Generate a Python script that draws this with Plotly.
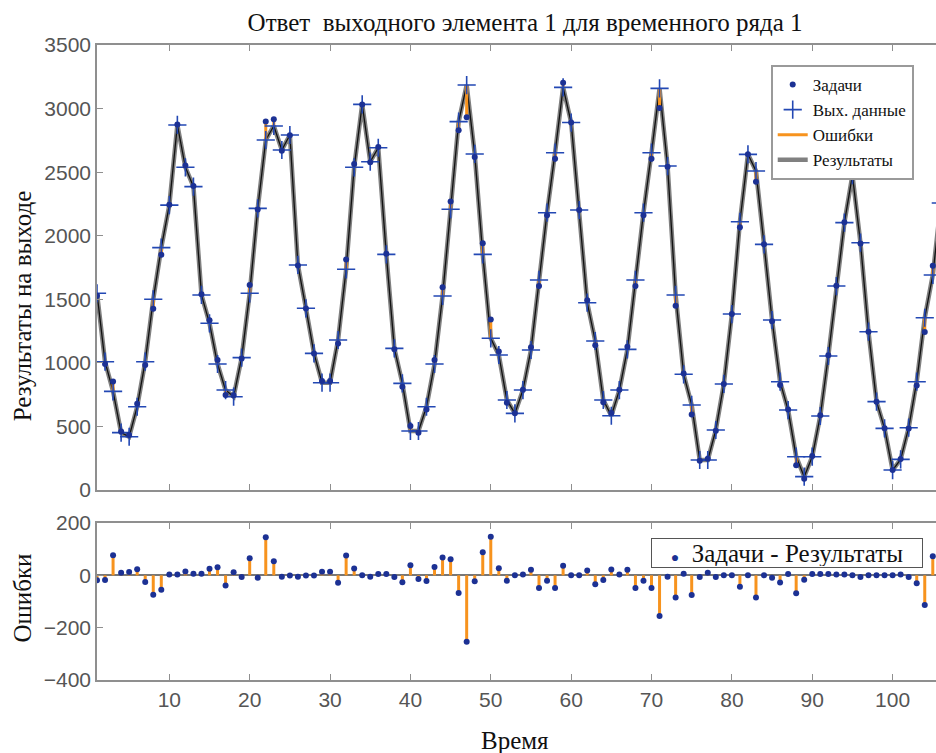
import plotly.graph_objects as go

time = list(range(1, 107))

targets = [1528, 991, 853, 461, 432, 678, 984, 1426, 1851, 2244,
           2874, 2553, 2392, 1540, 1336, 1022, 747, 746, 1035, 1612,
           2206, 2899, 2917, 2669, 2791, 1765, 1428, 1074, 858, 858,
           1152, 1812, 2564, 3033, 2577, 2697, 1858, 1108, 813, 503,
           450, 633, 1023, 1594, 2270, 2830, 2931, 2620, 1941, 1341,
           1089, 687, 603, 789, 1122, 1604, 2160, 2605, 3204, 2890,
           2202, 1492, 1138, 690, 606, 789, 1127, 1604, 2160, 2605,
           3004, 2543, 1449, 916, 594, 230, 246, 466, 834, 1384,
           2066, 2640, 2424, 1932, 1328, 825, 634, 194, 88, 267,
           587, 1059, 1607, 2106, 2477, 1939, 1245, 695, 485, 157,
           244, 484, 822, 1242, 1764, 2257]

outputs = [1547, 1009, 776, 451, 419, 655, 1009, 1500, 1906, 2241,
           2871, 2538, 2386, 1534, 1311, 991, 786, 734, 1041, 1547,
           2215, 2753, 2863, 2674, 2792, 1770, 1429, 1075, 844, 844,
           1180, 1736, 2538, 3033, 2582, 2692, 1853, 1114, 839, 464,
           464, 655, 991, 1526, 2208, 2897, 3185, 2643, 1853, 1193,
           1062, 708, 603, 786, 1101, 1652, 2181, 2653, 3167, 2890,
           2202, 1473, 1172, 708, 584, 786, 1106, 1652, 2181, 2653,
           3159, 2548, 1534, 910, 669, 236, 236, 472, 834, 1384,
           2110, 2640, 2509, 1932, 1337, 852, 629, 262, 105, 262,
           582, 1054, 1604, 2103, 2477, 1945, 1245, 695, 485, 157,
           241, 490, 852, 1355, 1691, 2257]

errors = [-19, -18, 77, 10, 13, 23, -25, -74, -55, 3,
          3, 15, 6, 6, 25, 31, -39, 12, -6, 65,
          -9, 146, 54, -5, -1, -5, -1, -1, 14, 14,
          -28, 76, 26, 0, -5, 5, 5, -6, -26, 39,
          -14, -22, 32, 68, 62, -67, -254, -23, 88, 148,
          27, -21, 0, 3, 21, -48, -21, -48, 37, 0,
          0, 19, -34, -18, 22, 3, 21, -48, -21, -48,
          -155, -5, -85, 6, -75, -6, 10, -6, 0, 0,
          -44, 0, -85, 0, -9, -27, 5, -68, -17, 5,
          5, 5, 3, 3, 0, -6, 0, 0, 0, 0,
          3, -6, -30, -113, 73, 0]

x_ticks = [10, 20, 30, 40, 50, 60, 70, 80, 90, 100]
y_ticks_top = [0, 500, 1000, 1500, 2000, 2500, 3000, 3500]
y_ticks_bot = [-400, -200, 0, 200]

title_text = "Ответ  выходного элемента 1 для временного ряда 1"
ytitle_top = "Результаты на выходе"
ytitle_bot = "Ошибки"
xtitle = "Время"
legend2_label = "Задачи - Результаты"

BLUE_DOT = "#1c3194"
BLUE_PLUS = "#2348b4"
ORANGE = "#f7931e"
GRAY = "#808080"
AXIS = "#8f8f8f"
TICKFONT = dict(family="Liberation Sans, Arial, sans-serif", size=21, color="#555555")
SERIF = "Liberation Serif, Times New Roman, serif"

# error segments (top panel)
ex, ey = [], []
for t, tg, o in zip(time, targets, outputs):
    ex += [t, t, None]
    ey += [o, tg, None]

# stems (bottom panel)
sx, sy = [], []
for t, e in zip(time, errors):
    sx += [t, t, None]
    sy += [0, e, None]

fig = go.Figure()

fig.add_trace(go.Scatter(x=time, y=outputs, mode="lines", name="Результаты",
                         line=dict(color=GRAY, width=4.5), legendrank=4,
                         xaxis="x", yaxis="y"))
fig.add_trace(go.Scatter(x=time, y=outputs, mode="lines", showlegend=False,
                         line=dict(color="#111111", width=1.3),
                         xaxis="x", yaxis="y", hoverinfo="skip"))
fig.add_trace(go.Scatter(x=ex, y=ey, mode="lines", name="Ошибки",
                         line=dict(color=ORANGE, width=3), legendrank=3,
                         xaxis="x", yaxis="y"))
fig.add_trace(go.Scatter(x=time, y=outputs, mode="markers", name="Вых. данные",
                         marker=dict(symbol="cross-thin", size=13,
                                     line=dict(color=BLUE_PLUS, width=1.6)),
                         legendrank=2, xaxis="x", yaxis="y"))
fig.add_trace(go.Scatter(x=time, y=targets, mode="markers", name="Задачи",
                         marker=dict(symbol="circle", size=6, color=BLUE_DOT),
                         legendrank=1, xaxis="x", yaxis="y"))

fig.add_trace(go.Scatter(x=sx, y=sy, mode="lines", showlegend=False,
                         line=dict(color=ORANGE, width=3),
                         xaxis="x2", yaxis="y2"))
fig.add_trace(go.Scatter(x=time, y=errors, mode="markers", name=legend2_label,
                         showlegend=False,
                         marker=dict(symbol="circle", size=6, color=BLUE_DOT),
                         xaxis="x2", yaxis="y2"))

common_x = dict(range=[1, 105.4], tickvals=x_ticks, ticks="inside", ticklen=6,
                tickcolor=AXIS, showline=True, linecolor=AXIS, linewidth=1.5,
                mirror="allticks", showgrid=False, zeroline=False, tickfont=TICKFONT)

fig.update_layout(
    width=936, height=753,
    margin=dict(l=97, r=0, t=45, b=73),
    paper_bgcolor="white", plot_bgcolor="white",
    title=dict(text=title_text, x=0.561, xanchor="center", y=0.971, yanchor="middle",
               font=dict(family=SERIF, size=25, color="#111111")),
    xaxis=dict(domain=[0, 1], anchor="y", showticklabels=False, **common_x),
    yaxis=dict(domain=[0.2992, 1], anchor="x", range=[0, 3500], tickvals=y_ticks_top,
               ticks="inside", ticklen=6, tickcolor=AXIS, showline=True, linecolor=AXIS,
               linewidth=1.5, mirror=False, showgrid=False, zeroline=False,
               tickfont=TICKFONT),
    xaxis2=dict(domain=[0, 1], anchor="y2", showticklabels=True, **common_x),
    yaxis2=dict(domain=[0, 0.2472], anchor="x2", range=[-400, 200], tickvals=y_ticks_bot,
                ticks="inside", ticklen=6, tickcolor=AXIS, showline=True, linecolor=AXIS,
                linewidth=1.5, mirror=False, showgrid=False, zeroline=True,
                zerolinecolor="#777777", zerolinewidth=1.5, tickfont=TICKFONT),
    legend=dict(x=0.803, y=0.9685, xanchor="left", yanchor="top",
                bgcolor="white", bordercolor="#9a9a9a", borderwidth=2,
                font=dict(family=SERIF, size=17, color="#111111"),
                itemwidth=30, tracegroupgap=0),
    showlegend=True,
    annotations=[
        dict(text=ytitle_top, xref="paper", yref="paper", x=-0.0894, y=0.59,
             xanchor="center", yanchor="middle", textangle=-90, showarrow=False,
             font=dict(family=SERIF, size=25, color="#111111")),
        dict(text=ytitle_bot, xref="paper", yref="paper", x=-0.0894, y=0.13,
             xanchor="center", yanchor="middle", textangle=-90, showarrow=False,
             font=dict(family=SERIF, size=25, color="#111111")),
        dict(text=xtitle, xref="paper", yref="paper", x=0.498, y=-0.095,
             xanchor="center", yanchor="middle", showarrow=False,
             font=dict(family=SERIF, size=25, color="#111111")),
        dict(text="<span style='color:%s;font-size:14px'>●</span>  %s" % (BLUE_DOT, legend2_label),
             xref="paper", yref="paper", x=0.660, y=0.2236,
             xanchor="left", yanchor="top", showarrow=False, align="center",
             width=268, height=26, borderpad=1, bordercolor="#555555", borderwidth=1,
             bgcolor="white", font=dict(family=SERIF, size=25, color="#111111")),
    ],
)

fig.write_html("out.html", config={"displayModeBar": False},
               post_script="document.body.style.margin='0px';")
